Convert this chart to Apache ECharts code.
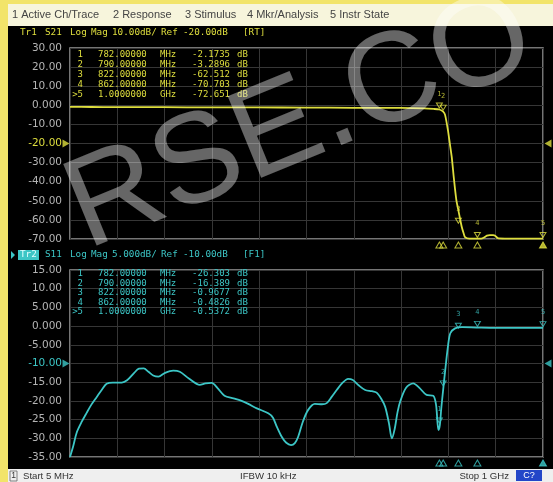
<!DOCTYPE html>
<html><head><meta charset="utf-8">
<script src="https://cdn.jsdelivr.net/npm/echarts@6/dist/echarts.min.js"></script>
<style>
html,body{margin:0;padding:0;background:#f2e46a;}
#wrap{position:relative;width:553px;height:482px;}
.bg{position:absolute;left:8px;width:545px;}
#menu{top:4px;height:22px;background:#f7f5dc;}
#panel{top:26px;height:443px;background:#000;}
#status{top:469px;height:13px;background:#efefef;}
#c{position:absolute;left:0;top:0;width:553px;height:482px;}
</style>
</head><body><div id="wrap"><div class="bg" id="menu"></div><div class="bg" id="panel"></div><div class="bg" id="status"></div><div id="c"></div></div>
<script>
// ---- data ----
const startMHz = 5, stopMHz = 1000;
const s21Freq = [5,50,100,200,300,400,500,600,700,750,770,782,790,794,800,804,808,812,815,818,822,826,829,833,836,845,860,870,876,882,888,895,900,905,920,950,1000];
const s21Val  = [-0.8,-0.9,-1.0,-1.0,-1.1,-1.1,-1.2,-1.3,-1.4,-1.6,-1.9,-2.2,-3.3,-5,-13,-20,-27,-37,-44,-50,-55,-60,-63.6,-67,-69,-69.8,-69.8,-69.8,-69.2,-68.2,-68,-68,-68.4,-69.6,-69.8,-69.8,-69.8];
const s11Freq = [5,12,19,30,40,50,61,72,82,95,114,125,140,150,160,170,180,191,205,222,236,255,278,290,303,315,330,349,366,380,398,422,432,440,450,460,470,478,485,495,506,520,535,545,555,566,578,590,600,612,626,640,650,660,668,676,682,688,694,700,712,727,740,755,769,775,780,783,786,790,795,800,805,815,830,860,900,950,1000];
const s11Val  = [-35,-32,-28.5,-25.5,-23.2,-21,-19,-17,-15.4,-15.1,-15.1,-14.5,-12.5,-11.4,-11.3,-12.2,-13.2,-13.5,-12.5,-11.9,-12.2,-14,-15.7,-15.3,-15.2,-16.5,-18.6,-19.3,-20,-20.8,-22,-23.3,-24.5,-26.9,-29.5,-31.2,-31.8,-31.3,-29.6,-25.5,-22.4,-20.8,-20.9,-20.6,-19,-17.1,-15.2,-14.1,-14.4,-15.8,-17.1,-17.4,-17.8,-19.5,-21.6,-26,-30,-27.5,-23,-20,-16.5,-15.3,-16.5,-18.4,-18.6,-21,-27.8,-26.5,-22,-17,-11,-5.5,-1.9,-0.6,-0.3,-0.4,-0.5,-0.5,-0.5];
const markerFreq = [782,790,822,862,1000];
const s21Marker  = [-2.1735,-3.2896,-62.512,-70.703,-72.651];
const s11Marker  = [-26.303,-16.389,-0.9677,-0.4826,-0.5372];
const s21Axis = {min:-70, max:30, step:10, ref:-20};
const s11Axis = {min:-35, max:15, step:5, ref:-10};
const menuItems = ['1 Active Ch/Trace','2 Response','3 Stimulus','4 Mkr/Analysis','5 Instr State'];
const title1 = ['Tr1','S21','Log','Mag','10.00dB/','Ref','-20.00dB','[RT]'];
const title2 = ['Tr2','S11','Log','Mag','5.000dB/','Ref','-10.00dB','[F1]'];
const statusTexts = ['Start 5 MHz','IFBW 10 kHz','Stop 1 GHz'];

// ---- styles ----
const YEL = '#dede3e', CYA = '#3cc6c6';
const mono = 'DejaVu Sans Mono';
const zip = (a,b) => a.map((v,i)=>[v,b[i]]);
const fmtVal = v => Math.abs(v) < 1 ? v.toFixed(4) : v.toPrecision(5);
const fmtFreq = f => f < 1000 ? f.toFixed(5) : (f/1000).toFixed(7);
const fmtUnit = f => f < 1000 ? 'MHz' : 'GHz';

const chart = echarts.init(document.getElementById('c'));
const G = [];
function T(text,x,y,fill,size,family,align){
  G.push({type:'text',z:50,style:{text:text,x:x,y:y,fill:fill,fontSize:size,fontFamily:family||'Liberation Sans',
    textAlign:align||'left',align:align||'left',textVerticalAlign:'middle',verticalAlign:'middle'}});
}
// menu
const menuX = [12,113,185,247,330];
menuItems.forEach((m,i)=>T(m,menuX[i],15,'#444',11,'Liberation Sans'));
// titles
const titleX = [20,45,70,91,112,161,183,243];
title1.forEach((t,i)=>T(t,titleX[i],33,YEL,9.3,mono));
G.push({type:'polygon',z:50,shape:{points:[[11,251],[15,255],[11,259]]},style:{fill:CYA}});
G.push({type:'rect',z:49,shape:{x:18,y:250,width:21,height:10},style:{fill:CYA}});
title2.forEach((t,i)=>T(t,titleX[i],255,i===0?'#dfffff':CYA,9.3,mono));
// marker tables
function table(vals,rows,color){
  markerFreq.forEach((f,i)=>{
    const y = rows[i];
    T(i<4?String(i+1):'>'+(i+1),83,y,color,9,mono,'right');
    T(fmtFreq(f),98,y,color,9,mono);
    T(fmtUnit(f),160,y,color,9,mono);
    T(fmtVal(vals[i]),230,y,color,9,mono,'right');
    T('dB',237,y,color,9,mono);
  });
}
table(s21Marker,[55,65,75,85,95],YEL);
table(s11Marker,[274,283.5,293,302.5,312],CYA);
// status bar
G.push({type:'rect',z:50,shape:{x:10,y:471,width:7,height:10},style:{fill:'none',stroke:'#666',lineWidth:0.8}});
T('1',13.5,476,'#333',8.5,'Liberation Sans','center');
T(statusTexts[0],23,476,'#333',9.6,'Liberation Sans');
T(statusTexts[1],240,476,'#333',9.6,'Liberation Sans');
T(statusTexts[2],509,476,'#333',9.6,'Liberation Sans','right');
G.push({type:'rect',z:50,shape:{x:516,y:470,width:26,height:11},style:{fill:'#2346c8'}});
T('C?',529,475.5,'#fff',9,'Liberation Sans','center');
// watermark
G.push({type:'text',z:100,x:98,y:276,rotation:0.39,style:{text:'RSE.CO',x:0,y:0,fill:'rgba(255,255,255,0.40)',fontSize:128,fontFamily:'Liberation Sans',
  textAlign:'left',align:'left',textVerticalAlign:'bottom',verticalAlign:'bottom'}});

function yAxisFor(ax,grid,refColor){
  return {type:'value',gridIndex:grid,min:ax.min,max:ax.max,interval:ax.step,
    axisLine:{show:false},axisTick:{show:false},
    splitLine:{show:true,lineStyle:{color:'#363636',width:1}},
    axisLabel:{margin:8,fontSize:10.5,fontFamily:'DejaVu Sans',color:'#b4b4b4',
      formatter:v=> v===ax.ref ? '{r|'+v.toPrecision(4)+'}' : v.toPrecision(4),
      rich:{r:{color:refColor,fontSize:10.5,fontFamily:'DejaVu Sans'}}}};
}
function xHidden(grid){return {type:'value',gridIndex:grid,min:startMHz,max:stopMHz,show:false};}
function xDiv(grid){return {type:'value',gridIndex:grid,min:0,max:10,interval:1,position:'top',
  axisLine:{show:false},axisTick:{show:false},axisLabel:{show:false},
  splitLine:{show:true,lineStyle:{color:'#363636',width:1}}};}

const clamp = (v,ax)=>Math.max(ax.min,Math.min(ax.max,v));
function markerSeries(xi,yi,vals,ax,color){
  return [{type:'scatter',xAxisIndex:xi,yAxisIndex:yi,clip:false,z:5,
    data:markerFreq.map((f,i)=>[f,clamp(vals[i],ax)]),
    symbol:'triangle',symbolRotate:180,symbolSize:[6,5],symbolOffset:[0,-4],
    itemStyle:{color:'rgba(0,0,0,0)',borderColor:color,borderWidth:1},
    label:{show:true,position:'top',distance:5,fontSize:7,color:color,fontFamily:mono,formatter:p=>String(p.dataIndex+1)}},
   {type:'scatter',xAxisIndex:xi,yAxisIndex:yi,clip:false,z:5,
    data:markerFreq.map(f=>[f,ax.min]),
    symbol:'triangle',symbolSize:[7,6],symbolOffset:[0,6],
    itemStyle:{color:p=>p.dataIndex===4?color:'rgba(0,0,0,0)',borderColor:color,borderWidth:1}},
   {type:'scatter',xAxisIndex:xi,yAxisIndex:yi,clip:false,z:5,
    data:[[startMHz,ax.ref]],symbol:'triangle',symbolSize:[8,7],symbolRotate:-90,symbolOffset:[-4,0],
    itemStyle:{color:color}},
   {type:'scatter',xAxisIndex:xi,yAxisIndex:yi,clip:false,z:5,
    data:[[stopMHz,ax.ref]],symbol:'triangle',symbolSize:[8,7],symbolRotate:90,symbolOffset:[5,0],
    itemStyle:{color:color}}];
}

const option = {
  animation:false,
  backgroundColor:'transparent',
  grid:[{left:70,top:48,width:473,height:191,show:true,borderColor:'#9c9c9c',borderWidth:1.5,backgroundColor:'#000'},
        {left:70,top:270,width:473,height:187,show:true,borderColor:'#9c9c9c',borderWidth:1.5,backgroundColor:'#000'}],
  xAxis:[xHidden(0),xDiv(0),xHidden(1),xDiv(1)],
  yAxis:[yAxisFor(s21Axis,0,YEL),yAxisFor(s11Axis,1,CYA)],
  graphic:G,
  series:[
    {type:'line',xAxisIndex:0,yAxisIndex:0,data:zip(s21Freq,s21Val),showSymbol:false,smooth:0.2,z:4,
      lineStyle:{color:YEL,width:1.8}},
    {type:'line',xAxisIndex:2,yAxisIndex:1,data:zip(s11Freq,s11Val),showSymbol:false,smooth:0.3,z:4,
      lineStyle:{color:CYA,width:1.8}}
  ].concat(markerSeries(0,0,s21Marker,s21Axis,YEL)).concat(markerSeries(2,1,s11Marker,s11Axis,CYA))
};
chart.setOption(option);
</script></body></html>
